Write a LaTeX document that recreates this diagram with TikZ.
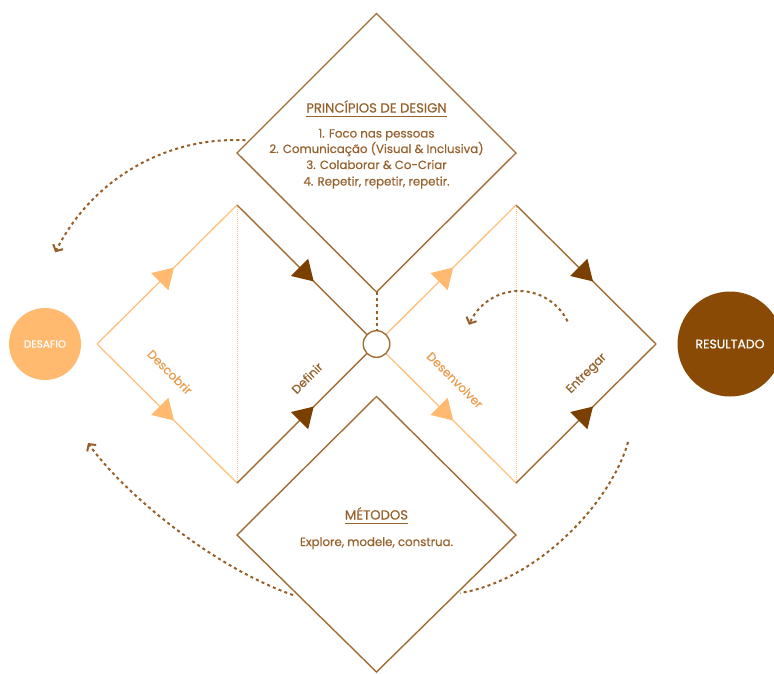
\documentclass[tikz,border=0pt]{standalone}
\usepackage{fontspec}
\setmainfont{Poppins}[FakeBold=0.6]
\newfontfamily\medfont{Poppins}[FakeBold=0.6]
\usetikzlibrary{arrows.meta,decorations.markings,calc}

\definecolor{lor}{RGB}{255,186,112}
\definecolor{lline}{RGB}{255,192,125}
\definecolor{vline}{RGB}{255,196,140}
\definecolor{bline}{RGB}{160,108,52}
\definecolor{dbrown}{RGB}{122,64,2}
\definecolor{resfill}{RGB}{137,74,6}
\definecolor{tbrown}{RGB}{150,98,45}
\definecolor{lorange}{RGB}{234,156,78}
\definecolor{dotbrown}{RGB}{150,95,40}

\tikzset{
  edgel/.style={draw=lline, line width=1.3pt},
  edgeb/.style={draw=bline, line width=1.4pt},
  midarr/.style={postaction={decorate}, decoration={markings, mark=at position 0.55 with {\arrow{Triangle[length=20pt,width=24pt,color=#1]}}}},
  dashb/.style={draw=dotbrown, line width=2pt, dash pattern=on 3pt off 3.2pt},
  barb/.style={-{Straight Barb[length=5pt,width=11pt,line width=2pt]}},
  vdot/.style={draw=vline, line width=1pt, dash pattern=on 1pt off 1pt},
  ttext/.style={text=tbrown, inner sep=0, anchor=base, font=\medfont\fontsize{11.8}{13}\selectfont},
  thead/.style={text=tbrown, inner sep=0, anchor=base, font=\medfont\fontsize{13.2}{14}\selectfont},
  lbl/.style={inner sep=0, font=\medfont\fontsize{12}{13}\selectfont}
}

\begin{document}
\begin{tikzpicture}[x=1pt,y=-1pt]
\useasboundingbox (0,0) rectangle (774,673);

% coordinates
\coordinate (C) at (376.5,344);
% top diamond
\coordinate (TT) at (376.5,13.5);
\coordinate (TR) at (516,153);
\coordinate (TB) at (376.5,292);
\coordinate (TL) at (237,153);
% bottom diamond
\coordinate (BT) at (376.5,396.5);
\coordinate (BR) at (516,535);
\coordinate (BB) at (376.5,672);
\coordinate (BL) at (237,535);
% left diamond
\coordinate (LL) at (97,344);
\coordinate (LT) at (237,205);
\coordinate (LB) at (237,483);
% right diamond
\coordinate (RT) at (516,205);
\coordinate (RB) at (516,483);
\coordinate (RR) at (656,344);

% big diamonds
\draw[edgeb] (TT) -- (TR) -- (TB) -- (TL) -- cycle;
\draw[edgeb] (BT) -- (BR) -- (BB) -- (BL) -- cycle;

% vertical dotted lines
\draw[vdot] (LT) -- (LB);
\draw[vdot] (RT) -- (RB);

% left diamond edges
\draw[edgel, midarr=lor] (LL) -- (LT);
\draw[edgel, midarr=lor] (LL) -- (LB);
\draw[edgeb, midarr=dbrown] (LT) -- (C);
\draw[edgeb, midarr=dbrown] (LB) -- (C);
% right diamond edges
\draw[edgel, midarr=lor] (C) -- (RT);
\draw[edgel, midarr=lor] (C) -- (RB);
\draw[edgeb, midarr=dbrown] (RT) -- (RR);
\draw[edgeb, midarr=dbrown] (RB) -- (RR);

% centre circle
\node[circle, draw=bline, line width=1.4pt, fill=white, minimum size=26.6pt, inner sep=0] (mid) at (C) {};
\draw[dashb] (TB) -- (mid.north);

% end circles
\node[circle, fill=lor, minimum size=72pt, inner sep=0, text=white, font=\medfont\fontsize{10.5}{12}\selectfont] (desafio) at (45,344) {DESAFIO};
\node[circle, fill=resfill, minimum size=105pt, inner sep=0, text=white, font=\medfont\fontsize{12.5}{14}\selectfont] (resultado) at (730,344) {RESULTADO};

% feedback arcs
\draw[dashb, barb] plot[domain=87:154, samples=40] ({235+200*cos(\x)},{340-200*sin(\x)});
\coordinate (blS) at (293,595);
\coordinate (blE) at (88,443);
\draw[dashb, barb] (blS) .. controls (215,568) and (125,495) .. (blE);
\coordinate (brS) at (628,442);
\coordinate (brE) at (460,593);
\draw[dashb] (brS) .. controls (612,500) and (540,580) .. (brE);
\draw[dashb, barb] plot[domain=26:158, samples=30] ({519+54*cos(\x)},{345-54*sin(\x)});

% top diamond text
\node[thead] (hd1) at (376.5,112.5) {PRINCÍPIOS DE DESIGN};
\draw[tbrown, line width=1.3pt] ([yshift=-4pt]hd1.base west) -- ([yshift=-4pt]hd1.base east);
\node[ttext] (p1) at (376.5,137.5) {1. Foco nas pessoas};
\node[ttext] (p2) at (376.5,153) {2. Comunicação (Visual \& Inclusiva)};
\node[ttext] (p3) at (376.5,169) {3. Colaborar \& Co-Criar};
\node[ttext] (p4) at (376.5,185.5) {4. Repetir, repetir, repetir.};

% bottom diamond text
\node[thead] (hd2) at (376.5,519.5) {MÉTODOS};
\draw[tbrown, line width=1.3pt] ([yshift=-4pt]hd2.base west) -- ([yshift=-4pt]hd2.base east);
\node[ttext] (m1) at (376.5,546) {Explore, modele, construa.};

% phase labels
\node[lbl, text=lorange, rotate=-45] (l1) at (170,372) {Descobrir};
\node[lbl, text=tbrown, rotate=45] (l2) at (307,378) {Definir};
\node[lbl, text=lorange, rotate=-45] (l3) at (455,380) {Desenvolver};
\node[lbl, text=tbrown, rotate=45] (l4) at (587,374) {Entregar};
\end{tikzpicture}
\end{document}
